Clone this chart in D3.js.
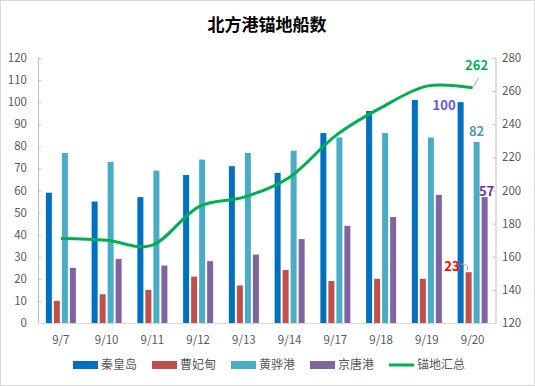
<!DOCTYPE html>
<html><head><meta charset="utf-8">
<script src="https://cdn.jsdelivr.net/npm/d3@7"></script>
<style>
body{margin:0;background:#fff;}
text{font-family:"Microsoft YaHei","Noto Sans CJK SC",sans-serif;}
</style></head>
<body><svg id="c" width="535" height="386"></svg>
<script>
const categories = ["9/7","9/10","9/11","9/12","9/13","9/14","9/17","9/18","9/19","9/20"];
const seriesNames = ["秦皇岛","曹妃甸","黄骅港","京唐港"];
const qinhuangdao = [59,55,57,67,71,68,86,96,101,100];
const caofeidian  = [10,13,15,21,17,24,19,20,20,23];
const huanghua    = [77,73,69,74,77,78,84,86,84,82];
const jingtang    = [25,29,26,28,31,38,44,48,58,57];
const totalName = "锚地汇总";
const total       = [171,170,167,190,196,208,233,250,263,262];
const leftTicks  = [0,10,20,30,40,50,60,70,80,90,100,110,120];
const rightTicks = [120,140,160,180,200,220,240,260,280];

const colors = ["#0070C0","#C0504D","#4BACC6","#8064A2"];
const lineColor = "#00B050";
const seriesVals = [qinhuangdao, caofeidian, huanghua, jingtang];

const svg = d3.select("#c");
svg.append("rect").attr("x",0.5).attr("y",0.5).attr("width",534).attr("height",385)
  .attr("fill","#fff").attr("stroke","#D9D9D9");

const L = 38, R = 495.5, T = 58, B = 323;
const x = d3.scaleBand().domain(categories).range([L,R]).paddingInner(0.344).paddingOuter(0.172);
const xs = d3.scaleBand().domain(seriesNames).range([0,x.bandwidth()]).paddingInner(0.25);
const y = d3.scaleLinear().domain([0,120]).range([B,T]);
const y2 = d3.scaleLinear().domain([120,280]).range([B,T]);

svg.append("text").attr("x",267).attr("y",31).attr("text-anchor","middle")
  .attr("font-size",17).attr("font-weight","bold").attr("fill","#000").text("北方港锚地船数");

// axes
const axL = svg.append("g").attr("transform",`translate(${L},0)`)
  .call(d3.axisRight(y).tickValues(leftTicks).tickSize(3).tickFormat(d3.format("d")));
axL.selectAll("text").remove();
axL.selectAll("line,path").attr("stroke","#BFBFBF");
svg.selectAll(".ll").data(leftTicks).enter().append("text")
  .attr("x",27).attr("y",d=>y(d)).attr("dy","0.35em").attr("text-anchor","end")
  .attr("font-size",11.5).attr("fill","#595959").text(d=>d);

const axR = svg.append("g").attr("transform",`translate(${R},0)`)
  .call(d3.axisLeft(y2).tickValues(rightTicks).tickSize(3));
axR.selectAll("text").remove();
axR.selectAll("line,path").attr("stroke","#BFBFBF");
svg.selectAll(".rl").data(rightTicks).enter().append("text")
  .attr("x",502).attr("y",d=>y2(d)).attr("dy","0.35em").attr("text-anchor","start")
  .attr("font-size",11.5).attr("fill","#595959").text(d=>d);

svg.append("line").attr("x1",L).attr("x2",R).attr("y1",B+0.5).attr("y2",B+0.5).attr("stroke","#D9D9D9");
svg.selectAll(".xl").data(categories).enter().append("text")
  .attr("x",d=>x(d)+x.bandwidth()/2).attr("y",340).attr("dy","0.35em").attr("text-anchor","middle")
  .attr("font-size",11.5).attr("fill","#595959").text(d=>d);

// bars
seriesNames.forEach((s,i)=>{
  svg.append("g").selectAll("rect").data(categories).enter().append("rect")
    .attr("x",d=>x(d)+xs(s)).attr("width",xs.bandwidth())
    .attr("y",(d,j)=>y(seriesVals[i][j])).attr("height",(d,j)=>B-y(seriesVals[i][j]))
    .attr("fill",colors[i]);
});

// line
const line = d3.line().x((d,j)=>x(categories[j])+x.bandwidth()/2).y(d=>y2(d)).curve(d3.curveCardinal.tension(0));
svg.append("path").datum(total).attr("d",line).attr("fill","none")
  .attr("stroke",lineColor).attr("stroke-width",3);

// data labels (last category)
const last = categories.length-1, lc = categories[last];
const cx = s => x(lc)+xs(s)+xs.bandwidth()/2;
svg.append("text").attr("x",cx(seriesNames[0])-5).attr("y",y(qinhuangdao[last])+3).attr("dy","0.35em")
  .attr("text-anchor","end").attr("font-size",13).attr("font-weight","bold").attr("fill","#5B5BDB").text(qinhuangdao[last]);
svg.append("text").attr("x",cx(seriesNames[2])).attr("y",y(huanghua[last])-6)
  .attr("text-anchor","middle").attr("font-size",13).attr("font-weight","bold").attr("fill","#4A9CBA").text(huanghua[last]);
svg.append("text").attr("x",cx(seriesNames[3])+2).attr("y",y(jingtang[last])-1)
  .attr("text-anchor","middle").attr("font-size",13).attr("font-weight","bold").attr("fill","#7030A0").text(jingtang[last]);
// 23 with leader
const rx = cx(seriesNames[1]), ry = y(caofeidian[last]);
svg.append("text").attr("x",rx-9).attr("y",ry-6).attr("dy","0.35em")
  .attr("text-anchor","end").attr("font-size",13).attr("font-weight","bold").attr("fill","#FF0000").text(caofeidian[last]);
svg.append("path").attr("d",`M${rx-8},${ry-8}L${rx-3},${ry-8}Q${rx-1},${ry-8} ${rx-1},${ry-2}`)
  .attr("fill","none").attr("stroke","#A6A6A6").attr("stroke-width",1);
// 262 with leader
const gx = x(lc)+x.bandwidth()/2, gy = y2(total[last]);
svg.append("text").attr("x",gx+4).attr("y",gy-18)
  .attr("text-anchor","middle").attr("font-size",13).attr("font-weight","bold").attr("fill",lineColor).text(total[last]);
svg.append("line").attr("x1",gx+1).attr("y1",gy-1).attr("x2",gx+6).attr("y2",gy-10)
  .attr("stroke","#A6A6A6").attr("stroke-width",1);

// legend
const leg = [
  {n:seriesNames[0],c:colors[0],x:73},
  {n:seriesNames[1],c:colors[1],x:152},
  {n:seriesNames[2],c:colors[2],x:231},
  {n:seriesNames[3],c:colors[3],x:310},
  {n:totalName,c:lineColor,x:389,line:true}
];
leg.forEach(d=>{
  if(d.line){
    svg.append("line").attr("x1",d.x).attr("x2",d.x+25).attr("y1",365).attr("y2",365)
      .attr("stroke",d.c).attr("stroke-width",3);
  } else {
    svg.append("rect").attr("x",d.x).attr("y",361).attr("width",25).attr("height",8).attr("fill",d.c);
  }
  svg.append("text").attr("x",d.x+28).attr("y",365).attr("dy","0.35em")
    .attr("font-size",12).attr("fill","#595959").text(d.n);
});
</script></body></html>
